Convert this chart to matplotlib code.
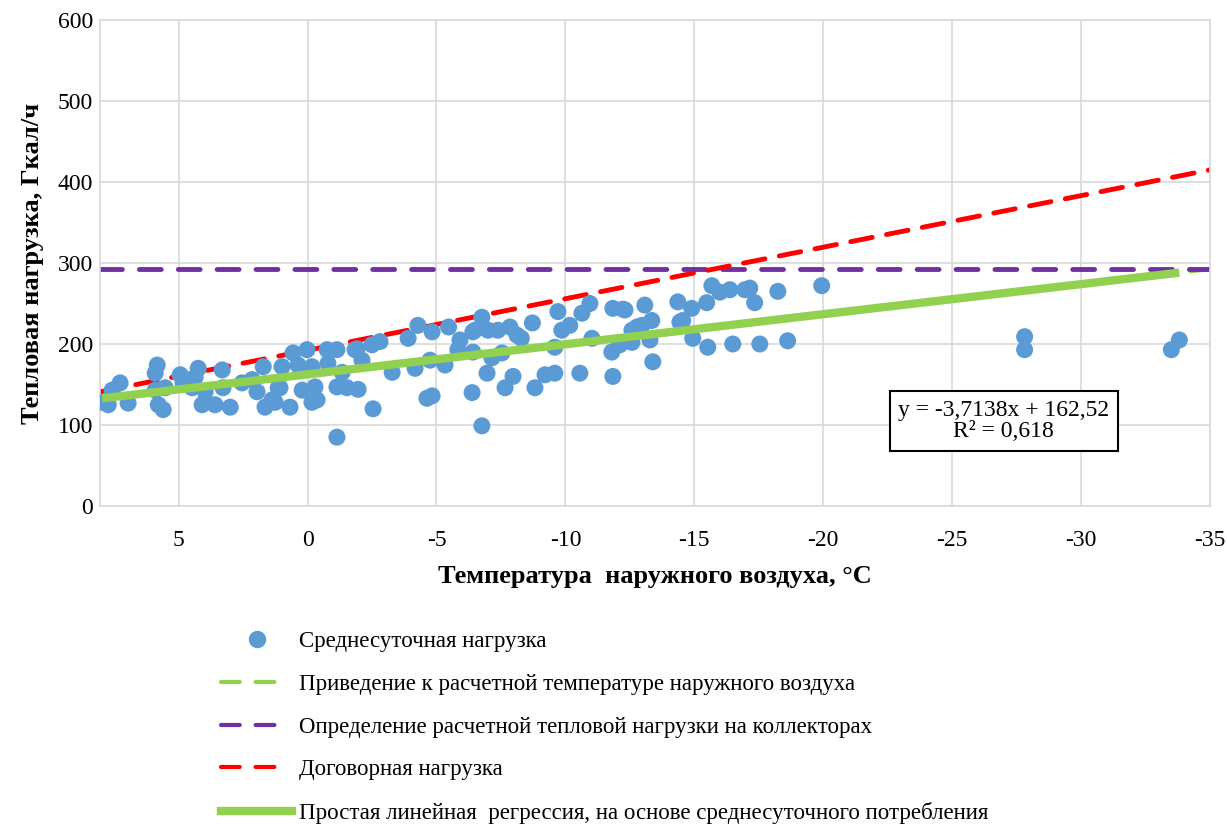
import numpy as np
import matplotlib
matplotlib.use("Agg")
import matplotlib.pyplot as plt
from matplotlib.lines import Line2D

plt.rcParams['font.family'] = ['Liberation Serif', 'DejaVu Serif']
plt.rcParams['axes.unicode_minus'] = False

# Среднесуточная нагрузка: температура наружного воздуха, °C / нагрузка, Гкал/ч
temp = [
    7.97, 7.73, 7.58, 7.27, 6.96, 5.83, 5.91, 5.91, 5.79, 5.60, 5.52, 4.94, 4.83, 4.48,
    4.24, 4.36, 4.09, 3.97, 3.31, 3.28, 3.59, 3.00, 2.54, 2.15, 1.72, 1.96, 1.65, 1.38,
    1.14,
    -4.28, 0.56, 0.02, -0.76, -1.14, -1.84, -2.50, -2.81, -3.90, -4.83, -5.47, 0.99, 0.37,
    -0.17, -0.79, -1.34, -2.11, -3.28, -4.17, -5.33, -4.75, 1.07, 0.21, -0.29, -1.14, -1.53,
    -1.96, 1.26, 0.68, -0.17, -0.37, -2.54, -4.63, -4.83, -1.14, -1.92,
    -6.76, -6.49, -7.00, -7.38, -7.85, -8.12, -8.29, -8.72, -9.71, -9.86, -10.17, -10.64,
    -10.95, -11.84, -12.31, -5.91, -5.83, -6.41, -7.15, -7.54, -9.59, -11.03, -11.80, -6.96,
    -7.97, -7.66, -6.38, -8.82, -9.21, -9.59, -10.56, -11.84, -6.76, -12.58, -12.78, -6.41,
    -12.23, -13.08, -14.36, -14.90, -15.48, -15.68, -15.99, -16.38, -16.96, -17.15, -17.34,
    -18.24, -19.94, -12.58, -12.97, -13.35, -13.28, -13.39, -14.44, -14.55, -14.94, -15.52,
    -16.49, -17.54, -18.62, -12.11,
    -27.81, -27.81, -33.81, -33.50,
]
load = [
    128, 125, 143, 152, 127, 174, 164, 143, 125, 119, 146, 162, 152, 146,
    170, 159, 125, 141, 168, 146, 125, 122, 152, 156, 172, 141, 122, 131,
    146,
    223, 189, 193, 193, 193, 193, 199, 203, 207, 215, 221, 172, 174,
    172, 176, 165, 180, 165, 170, 174, 180, 146, 143, 147, 147, 146,
    144, 128, 122, 128, 131, 120, 133, 136, 85, 194,
    233, 217, 217, 217, 221, 211, 207, 226, 240, 217, 223, 238,
    250, 244, 242, 205, 193, 190, 183, 189, 196, 207, 190, 164,
    160, 146, 140, 146, 162, 164, 164, 160, 99, 217, 221, 215,
    243, 248, 252, 244, 251, 272, 264, 267, 267, 269, 251,
    265, 272, 202, 223, 229, 205, 178, 227, 229, 207, 196,
    200, 200, 204, 199,
    209, 193, 205, 193,
]

# Линии
t_range = [8.05, -35]
collector_load = [292, 292]     # Определение расчетной тепловой нагрузки на коллекторах
contract_load = [141, 415]      # Договорная нагрузка
slope, intercept = -3.7138, 162.52
r2 = 0.618

fig = plt.figure(figsize=(12.27, 8.24), dpi=100)
ax = fig.add_axes([100 / 1227, 1 - 506 / 824, 1110 / 1227, 486 / 824])

green = '#92D050'
purple = '#7030A0'
red = '#FF0000'
blue = '#5B9BD5'

t_line = np.array(t_range)
ax.plot(t_line, slope * t_line + intercept, color=green, lw=3, dashes=(5, 3.5),
        dash_capstyle='round', zorder=2)
ax.plot(t_range, collector_load, color=purple, lw=3.5, dashes=(4.5, 3.5),
        dash_capstyle='round', zorder=2)
ax.plot(t_range, contract_load, color=red, lw=3.5, dashes=(4.5, 3),
        dash_capstyle='round', zorder=2)
ax.scatter(temp, load, s=150, color=blue, edgecolors='none', zorder=3)
t_fit = np.array([max(temp), min(temp)])
ax.plot(t_fit, slope * t_fit + intercept, color=green, lw=6, solid_capstyle='butt', zorder=4)

ax.set_xlim(t_range)
ax.set_ylim(0, 600)
ax.set_xticks(range(5, -36, -5))
ax.set_yticks(range(0, 601, 100))
ax.grid(True, color='#d9d9d9', lw=1.2)
ax.set_axisbelow(True)
for s in ax.spines.values():
    s.set_color('#d9d9d9')
    s.set_linewidth(1.2)
ax.tick_params(length=0, labelsize=17)
ax.tick_params(axis='x', pad=17)
ax.tick_params(axis='y', pad=5)

ax.set_xlabel('Температура  наружного воздуха, °C', fontsize=19, fontweight='bold', labelpad=10)
ax.set_ylabel('Тепловая нагрузка, Гкал/ч', fontsize=19, fontweight='bold', labelpad=10)

eq = f"y = {slope:.4f}x + {intercept:.2f}".replace('.', ',')
ax.text(-27.0, 105, eq + '\n' + f"R² = {r2:.3f}".replace('.', ','), ha='center', va='center',
        fontsize=17, linespacing=1.05, zorder=5,
        bbox=dict(boxstyle='square,pad=0.35', fc='white', ec='black', lw=1.5))

leg_dash = (4.5, 3.8, 4.5, 12)
handles = [
    Line2D([], [], ls='none', marker='o', markersize=11.5, color=blue),
    Line2D([], [], color=green, lw=3, dashes=leg_dash, dash_capstyle='round'),
    Line2D([], [], color=purple, lw=3, dashes=leg_dash, dash_capstyle='round'),
    Line2D([], [], color=red, lw=3, dashes=leg_dash, dash_capstyle='round'),
    Line2D([], [], color=green, lw=6),
]
labels = [
    'Среднесуточная нагрузка',
    'Приведение к расчетной температуре наружного воздуха',
    'Определение расчетной тепловой нагрузки на коллекторах',
    'Договорная нагрузка',
    'Простая линейная  регрессия, на основе среднесуточного потребления',
]
fig.legend(handles, labels, loc='upper left', bbox_to_anchor=(221 / 1227, 1 - 631 / 824),
           frameon=False, fontsize=16.5, handlelength=3.1, handletextpad=0.3,
           labelspacing=0.95, borderaxespad=0, borderpad=0)

fig.savefig('out.png', dpi=100)
